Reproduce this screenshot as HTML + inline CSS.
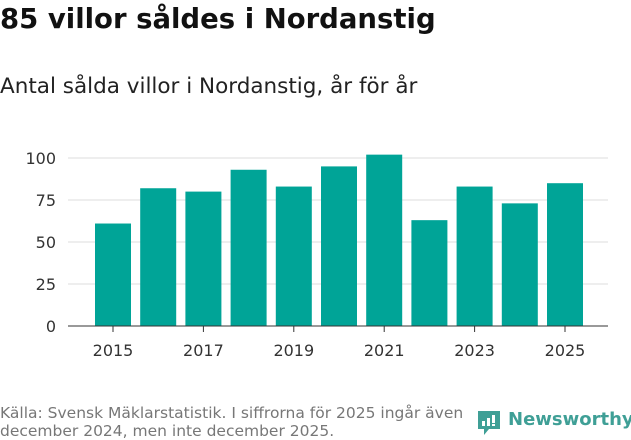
<!DOCTYPE html>
<html><head><meta charset="utf-8"><style>
body{margin:0;width:631px;height:439px;background:#fff;font-family:"DejaVu Sans","Liberation Sans",sans-serif;overflow:hidden;position:relative}
</style></head><body>
<div style="position:absolute;left:0;top:3px;font-size:27.5px;font-weight:bold;color:#111">85 villor såldes i Nordanstig</div>
<div style="position:absolute;left:0;top:74px;font-size:21.5px;color:#222">Antal sålda villor i Nordanstig, år för år</div>
<svg id="c" width="631" height="439" style="position:absolute;left:0;top:0"></svg>
<div style="position:absolute;left:0;top:404px;font-size:15.5px;line-height:18px;color:#777">Källa: Svensk Mäklarstatistik. I siffrorna för 2025 ingår även<br>december 2024, men inte december 2025.</div>
<div style="position:absolute;left:476px;top:408px;width:155px;height:30px">
<svg width="26" height="30" style="position:absolute;left:0;top:1px"><path d="M2 2h22v18H13l-5 6v-6H2z" fill="#3f9f96"/><rect x="6" y="12" width="3" height="5" fill="#fff"/><rect x="11" y="9" width="3" height="8" fill="#fff"/><rect x="16" y="6" width="3" height="8" fill="#fff"/><rect x="16" y="15" width="3" height="2" fill="#fff"/></svg>
<span style="position:absolute;left:32px;top:1px;font-size:18px;font-weight:bold;color:#3f9f96">Newsworthy</span></div>
<script>
const years=[2015,2016,2017,2018,2019,2020,2021,2022,2023,2024,2025];
const values=[61,82,80,93,83,95,102,63,83,73,85];
const yTicks=[0,25,50,75,100];
const xTickLabels=[2015,2017,2019,2021,2023,2025];
const ns="http://www.w3.org/2000/svg",svg=document.getElementById('c');
const y=v=>326-v*1.68, x=yr=>113+(yr-2015)*45.2;
function mk(t,a){const e=document.createElementNS(ns,t);for(const k in a)e.setAttribute(k,a[k]);svg.appendChild(e);return e;}
yTicks.forEach(t=>{
 const g=mk('line',{x1:68,x2:608,y1:y(t),y2:y(t),stroke:t?'#ddd':'#333','stroke-width':1});
 
 
 const l=mk('text',{x:56,y:y(t)+6,'text-anchor':'end','font-size':16,fill:'#333'});l.textContent=t;
 
 
});
years.forEach((yr,i)=>{
 const r=mk('rect',{x:x(yr)-18,y:y(values[i]),width:36,height:values[i]*1.68,fill:'#00a497'});
 
 
});
mk('line',{x1:68,x2:608,y1:326,y2:326,stroke:'#333'});
xTickLabels.forEach(yr=>{
 mk('line',{x1:x(yr),x2:x(yr),y1:326,y2:332,stroke:'#333'});
 const l=mk('text',{x:x(yr),y:356,'text-anchor':'middle','font-size':16,fill:'#333'});l.textContent=yr;
 
 
});
</script>
</body></html>
